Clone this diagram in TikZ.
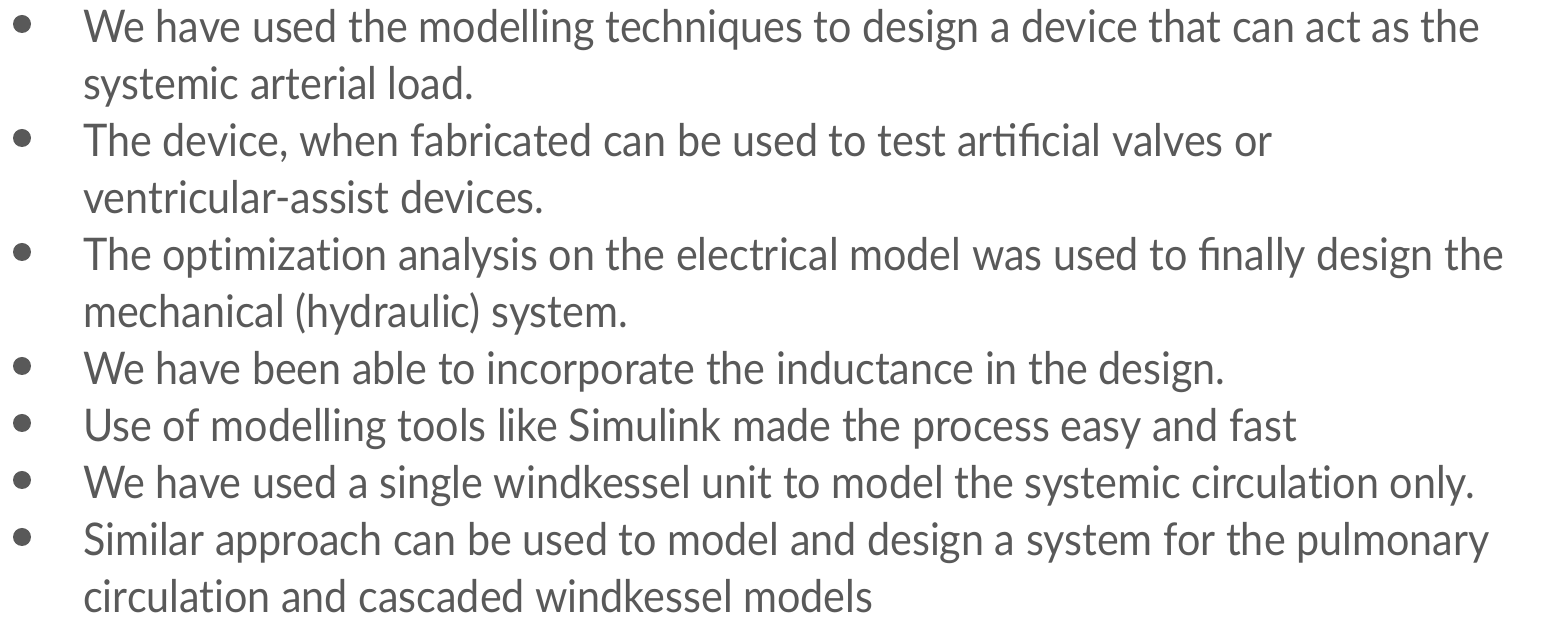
\documentclass[tikz,border=0pt]{standalone}
\usepackage{fontspec}
\setmainfont{Lato}[FakeStretch=0.917]
\definecolor{txt}{HTML}{595959}
\newcommand\tI{t\kern0pt i}
\begin{document}
\begin{tikzpicture}[x=1pt,y=1pt,
  line/.style={anchor=base west,inner sep=0pt,text=txt,font=\fontsize{45}{57}\selectfont},
  bul/.style={fill=txt,draw=none,circle,minimum size=18pt,inner sep=0pt}]
\useasboundingbox (0,0) rectangle (1543,620);
\node[line] (l1) at (83,577) {We have used the modelling techniques to design a device that can act as the};
\node[line] (l2) at (83,520) {systemic arterial load.};
\node[line] (l3) at (83,463) {The device, when fabricated can be used to test artificial valves or};
\node[line] (l4) at (83,406) {ventricular-assist devices.};
\node[line] (l5) at (83,349) {The op\tI miza\tI on analysis on the electrical model was used to finally design the};
\node[line] (l6) at (83,292) {mechanical (hydraulic) system.};
\node[line] (l7) at (83,235) {We have been able to incorporate the inductance in the design.};
\node[line] (l8) at (83,178) {Use of modelling tools like Simulink made the process easy and fast};
\node[line] (l9) at (83,121) {We have used a single windkessel unit to model the systemic circula\tI on only.};
\node[line] (l10) at (83,64) {Similar approach can be used to model and design a system for the pulmonary};
\node[line] (l11) at (83,7) {circula\tI on and cascaded windkessel models};
\foreach \y [count=\i] in {577,463,349,235,178,121,64}
  \node[bul] (b\i) at (22,\y+19) {};
\end{tikzpicture}
\end{document}
